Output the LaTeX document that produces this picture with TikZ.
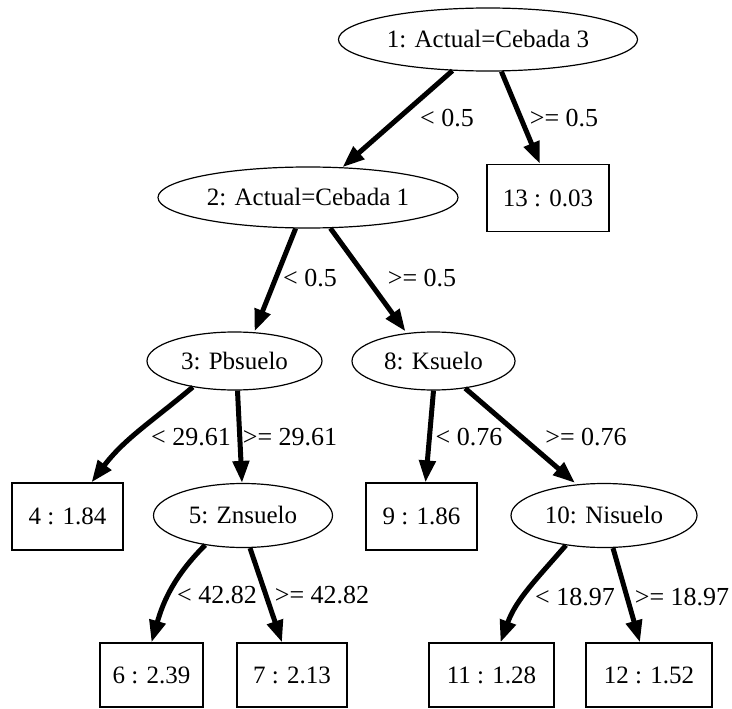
\documentclass[tikz,border=0pt]{standalone}
\usepackage{fontspec}
\setmainfont{Liberation Serif}
\usetikzlibrary{shapes.geometric,arrows.meta}
\begin{document}
\begin{tikzpicture}[x=1pt,y=1pt,
  every node/.style={font=\fontsize{25}{29}\selectfont, inner sep=0pt},
  split/.style={ellipse, draw, line width=1.2pt},
  leaf/.style={rectangle, draw, line width=1.2pt},
  edge/.style={line width=5pt, -{Triangle[length=22pt,width=16pt]}},
  lbl/.style={anchor=center, font=\fontsize{26}{30}\selectfont}]
\useasboundingbox (0,0) rectangle (732,-709);

% split nodes
\node[split, minimum width=299pt, minimum height=63pt] (n1) at (488,-39.5) {1: Actual=Cebada 3};
\node[split, minimum width=300pt, minimum height=61pt] (n2) at (308,-197.5) {2: Actual=Cebada 1};
\node[split, minimum width=175pt, minimum height=58pt] (n3) at (234.5,-361) {3: Pbsuelo};
\node[split, minimum width=163pt, minimum height=58pt] (n8) at (433.5,-361) {8: Ksuelo};
\node[split, minimum width=179pt, minimum height=64pt] (n5) at (243,-515.5) {5: Znsuelo};
\node[split, minimum width=186pt, minimum height=64pt] (n10) at (604,-515.5) {10: Nisuelo};

% leaves
\node[leaf, minimum width=122pt, minimum height=67pt] (n13) at (548,-198) {13 : 0.03};
\node[leaf, minimum width=111pt, minimum height=67pt] (n4) at (67.5,-516.5) {4 : 1.84};
\node[leaf, minimum width=111pt, minimum height=67pt] (n9) at (421.5,-516.5) {9 : 1.86};
\node[leaf, minimum width=103pt, minimum height=64pt] (n6) at (151.5,-675) {6 : 2.39};
\node[leaf, minimum width=110pt, minimum height=64pt] (n7) at (292,-675) {7 : 2.13};
\node[leaf, minimum width=125pt, minimum height=64pt] (n11) at (491.5,-675) {11 : 1.28};
\node[leaf, minimum width=126pt, minimum height=64pt] (n12) at (649,-675) {12 : 1.52};

% branches
\draw[edge] (n1) -- (n2);
\draw[edge] (n1) -- ([xshift=-8pt]n13.north);
\draw[edge] (n2) -- ([xshift=20pt]n3.north);
\draw[edge] (n2) -- ([xshift=-28pt]n8.north);
\draw[edge] (n3.212) to[out=220,in=53] ([xshift=24pt]n4.north);
\draw[edge] ([xshift=3pt]n3.south) -- ([xshift=-1pt]n5.north);
\draw[edge] (n8.south) -- ([xshift=4pt]n9.north);
\draw[edge] (n8) -- ([xshift=-29pt]n10.north);
\draw[edge] (n5.218) to[out=225,in=74] (n6.north);
\draw[edge] ([xshift=7pt]n5.south) -- ([xshift=-10pt]n7.north);
\draw[edge] (n10.218) to[out=229,in=70] ([xshift=9pt]n11.north);
\draw[edge] ([xshift=9pt]n10.south) -- ([xshift=-9pt]n12.north);

% branch conditions
\node[lbl] (c12) at (447,-118) {< 0.5};
\node[lbl] (c113) at (564,-118) {>= 0.5};
\node[lbl] (c23) at (310,-278) {< 0.5};
\node[lbl] (c28) at (422,-278) {>= 0.5};
\node[lbl] (c34) at (191,-437) {< 29.61};
\node[lbl] (c35) at (290,-437) {>= 29.61};
\node[lbl] (c89) at (469,-437) {< 0.76};
\node[lbl] (c810) at (586,-437) {>= 0.76};
\node[lbl] (c56) at (217,-595) {< 42.82};
\node[lbl] (c57) at (322,-595) {>= 42.82};
\node[lbl] (c1011) at (575,-597) {< 18.97};
\node[lbl] (c1012) at (682,-597) {>= 18.97};
\end{tikzpicture}
\end{document}
